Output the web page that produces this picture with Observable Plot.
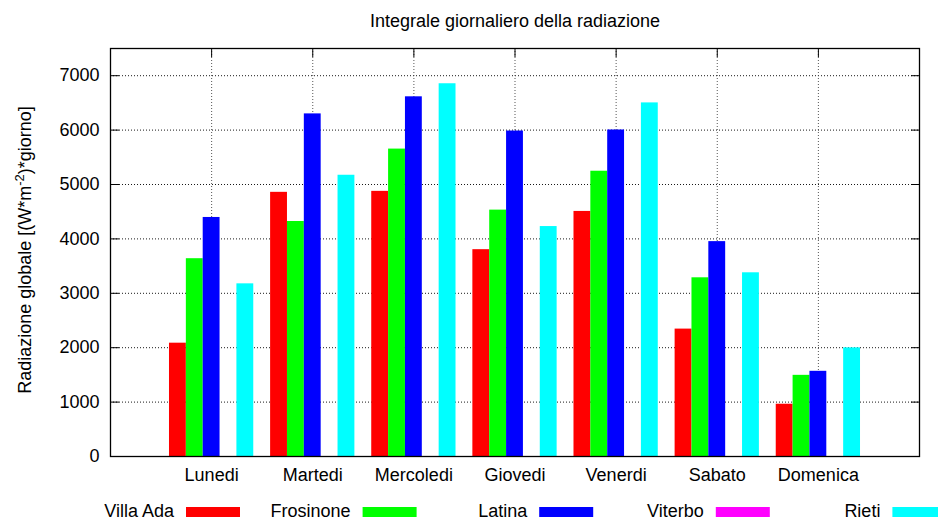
<!DOCTYPE html>
<html><head><meta charset="utf-8">
<script src="https://cdn.jsdelivr.net/npm/d3@7"></script>
<script src="https://cdn.jsdelivr.net/npm/@observablehq/plot@0.6"></script>
<style>
body{margin:0;background:#fff;}
svg{display:block;}
</style>
</head><body><div id="chart"></div>
<script>
const title = "Integrale giornaliero della radiazione";
const days = ["Lunedi","Martedi","Mercoledi","Giovedi","Venerdi","Sabato","Domenica"];
const seriesNames = ["Villa Ada","Frosinone","Latina","Viterbo","Rieti"];
const seriesColors = ["#ff0000","#00ff00","#0000ff","#ff00ff","#00ffff"];
const villaAda  = [2083,4856,4874,3802,4505,2342,961];
const frosinone = [3636,4320,5651,4529,5244,3285,1492];
const latina    = [4394,6298,6612,5983,6002,3950,1566];
const viterbo   = [null,null,null,null,null,null,null];
const rieti     = [3174,5170,6852,4227,6500,3377,1997];
const yTicks = [0,1000,2000,3000,4000,5000,6000,7000];

const allSeries = [villaAda, frosinone, latina, viterbo, rieti];
const nS = seriesNames.length;
const bw = 1 / (nS + 1);
const data = [];
allSeries.forEach((vals, s) => vals.forEach((v, d) => {
  if (v != null) data.push({series: seriesNames[s], s, d, value: v});
}));
const dayIdx = days.map((_, i) => i);
const FONT = "'Liberation Sans', Arial, Helvetica, sans-serif";

const plot = Plot.plot({
  width: 938, height: 521,
  marginLeft: 110, marginRight: 19, marginTop: 48, marginBottom: 65,
  style: {fontFamily: FONT, fontSize: "18px", color: "#000", background: "#fff", overflow: "visible"},
  x: {domain: [-1, 7], label: null},
  y: {domain: [0, 7500], label: null},
  color: {domain: seriesNames, range: seriesColors},
  marks: [
    Plot.gridY(yTicks, {stroke: "#000", strokeOpacity: 0.9, strokeWidth: 1, strokeDasharray: "1,2"}),
    Plot.gridX(dayIdx, {stroke: "#444", strokeOpacity: 0.9, strokeWidth: 1, strokeDasharray: "1,2"}),
    Plot.axisY(yTicks, {anchor: "left", tickSize: -9, fill: "none", label: null, stroke: "#000"}),
    Plot.axisY(yTicks, {anchor: "right", tickSize: -9, fill: "none", label: null, stroke: "#000"}),
    Plot.axisX(dayIdx, {anchor: "top", tickSize: -8, fill: "none", label: null, stroke: "#000"}),
    Plot.axisX(dayIdx, {anchor: "bottom", tickSize: -8, fill: "none", label: null, stroke: "#000"}),
    Plot.rectY(data, {
      x1: d => d.d - (nS / 2) * bw + d.s * bw,
      x2: d => d.d - (nS / 2) * bw + (d.s + 1) * bw,
      y1: 0, y2: "value", fill: "series"
    }),
    Plot.axisY(yTicks, {anchor: "left", tickSize: 0, tickPadding: 11, label: null, fill: "#000", tickFormat: d => String(d)}),
    Plot.axisX(dayIdx, {anchor: "bottom", tickSize: 0, tickPadding: 12, label: null, fill: "#000", tickFormat: i => days[i]}),
    Plot.frame({stroke: "#000", strokeWidth: 1.3}),
    Plot.text([title], {text: d => d, frameAnchor: "top", lineAnchor: "bottom", dy: -22, fontSize: 18, fill: "#000"})
  ]
});
document.getElementById("chart").appendChild(plot);

const svg = d3.select(plot);
// y-axis label with superscript
const yl = svg.append("text")
  .attr("transform", "translate(31,250) rotate(-90)")
  .attr("text-anchor", "middle")
  .attr("font-family", FONT).attr("font-size", 18).attr("fill", "#000");
yl.append("tspan").text("Radiazione globale [(W*m");
yl.append("tspan").attr("dy", -7).attr("font-size", 13).text("-2");
yl.append("tspan").attr("dy", 7).text(")*giorno]");

// legend (horizontal key, bottom)
const legendStep = 176.6, legendX0 = 186, sampleW = 54;
const lg = svg.append("g").attr("font-family", FONT).attr("font-size", 18).attr("fill", "#000");
seriesNames.forEach((name, i) => {
  const x = legendX0 + i * legendStep;
  lg.append("text").attr("x", x - 12).attr("y", 517).attr("text-anchor", "end").text(name);
  lg.append("rect").attr("x", x).attr("y", 507).attr("width", sampleW).attr("height", 10).attr("fill", seriesColors[i]);
});
</script>
</body></html>
